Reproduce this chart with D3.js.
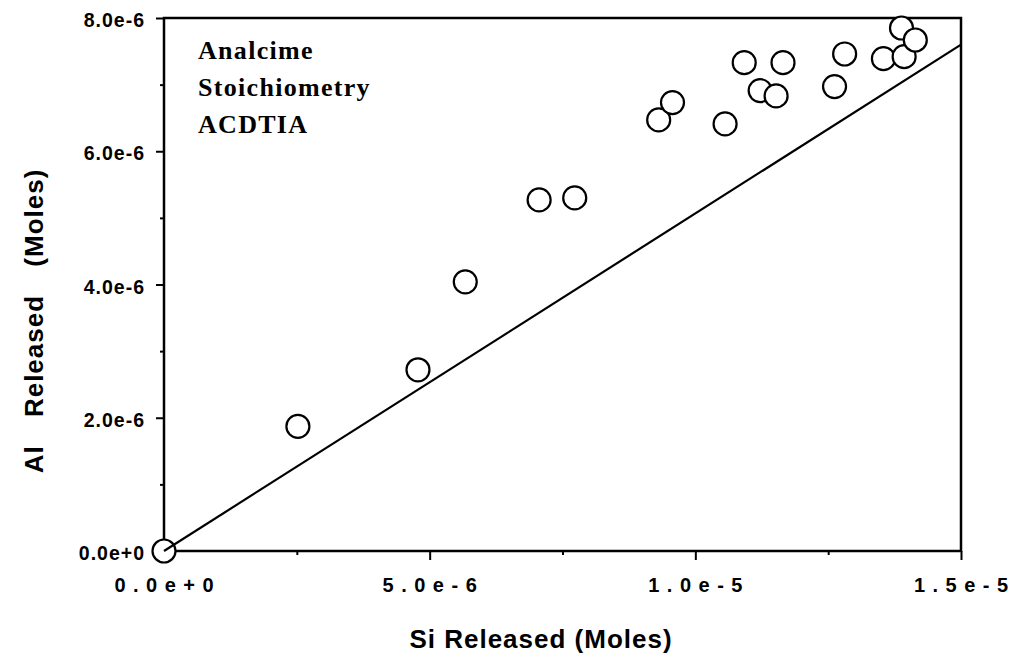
<!DOCTYPE html>
<html>
<head>
<meta charset="utf-8">
<script src="https://cdn.jsdelivr.net/npm/d3@7"></script>
<style>
  html, body { margin: 0; padding: 0; background: #fff; }
  svg { display: block; }
</style>
</head>
<body>
<svg id="chart" width="1016" height="656"></svg>
<script>
// Si and Al released (moles) for each sample
const siReleased = [0, 2.52e-6, 4.78e-6, 5.67e-6, 7.06e-6, 7.73e-6, 9.31e-6, 9.57e-6,
  10.56e-6, 10.92e-6, 11.22e-6, 11.52e-6, 11.65e-6, 12.62e-6, 12.81e-6, 13.54e-6,
  13.88e-6, 13.93e-6, 14.14e-6];
const alReleased = [0, 1.87e-6, 2.72e-6, 4.04e-6, 5.27e-6, 5.30e-6, 6.47e-6, 6.73e-6,
  6.41e-6, 7.33e-6, 6.91e-6, 6.83e-6, 7.33e-6, 6.97e-6, 7.46e-6, 7.39e-6,
  7.85e-6, 7.42e-6, 7.67e-6];

// Stoichiometric reference line (Si, Al)
const stoichSi = [0, 1.5e-5];
const stoichAl = [0, 7.6e-6];

// Axis ticks
const xTickValues = [0, 5e-6, 1e-5, 1.5e-5];
const xTickLabels = ["0.0e+0", "5.0e-6", "1.0e-5", "1.5e-5"];
const xMinorValues = [2.5e-6, 7.5e-6, 1.25e-5];
const yTickValues = [0, 2e-6, 4e-6, 6e-6, 8e-6];
const yTickLabels = ["0.0e+0", "2.0e-6", "4.0e-6", "6.0e-6", "8.0e-6"];
const yMinorValues = [1e-6, 3e-6, 5e-6, 7e-6];

const noteLines = ["Analcime", "Stoichiometry", "ACDTIA"];

const svg = d3.select("#chart");
const plotLeft = 164, plotRight = 961, plotTop = 18, plotBottom = 551;

const x = d3.scaleLinear().domain([0, 1.5e-5]).range([plotLeft, plotRight]);
const y = d3.scaleLinear().domain([0, 8e-6]).range([plotBottom, plotTop]);

const sans = "'Liberation Sans', Arial, Helvetica, sans-serif";
const serif = "'Liberation Serif', 'Times New Roman', serif";

// Frame
svg.append("rect")
  .attr("x", plotLeft).attr("y", plotTop)
  .attr("width", plotRight - plotLeft).attr("height", plotBottom - plotTop)
  .attr("fill", "none").attr("stroke", "#000").attr("stroke-width", 2.5);

// X axis: major and minor ticks
const gx = svg.append("g").attr("transform", `translate(0,${plotBottom})`)
  .call(d3.axisBottom(x).tickValues(xTickValues).tickSize(9).tickFormat(""));
gx.select(".domain").remove();
gx.selectAll("line").attr("stroke", "#000").attr("stroke-width", 2);

const gxm = svg.append("g").attr("transform", `translate(0,${plotBottom})`)
  .call(d3.axisBottom(x).tickValues(xMinorValues).tickSize(4).tickFormat(""));
gxm.select(".domain").remove();
gxm.selectAll("line").attr("stroke", "#000").attr("stroke-width", 2);

// X tick labels (letter-spaced)
const xLs = 7.5;
svg.append("g").selectAll("text")
  .data(xTickValues)
  .join("text")
  .attr("x", d => x(d) + xLs / 2)
  .attr("y", 592)
  .attr("text-anchor", "middle")
  .attr("font-family", sans)
  .attr("font-weight", "bold")
  .attr("font-size", 20)
  .attr("letter-spacing", xLs)
  .text((d, i) => xTickLabels[i]);

// Y axis: major and minor ticks
const gy = svg.append("g").attr("transform", `translate(${plotLeft},0)`)
  .call(d3.axisLeft(y).tickValues(yTickValues).tickSize(8).tickFormat(""));
gy.select(".domain").remove();
gy.selectAll("line").attr("stroke", "#000").attr("stroke-width", 2);

const gym = svg.append("g").attr("transform", `translate(${plotLeft},0)`)
  .call(d3.axisLeft(y).tickValues(yMinorValues).tickSize(4).tickFormat(""));
gym.select(".domain").remove();
gym.selectAll("line").attr("stroke", "#000").attr("stroke-width", 2);

svg.append("g").selectAll("text")
  .data(yTickValues)
  .join("text")
  .attr("x", 145)
  .attr("y", d => y(d) + 9)
  .attr("text-anchor", "end")
  .attr("font-family", sans)
  .attr("font-weight", "bold")
  .attr("font-size", 19.5)
  .attr("letter-spacing", 1)
  .text((d, i) => yTickLabels[i]);

// Data points
svg.append("g").selectAll("circle")
  .data(siReleased.map((s, i) => [s, alReleased[i]]))
  .join("circle")
  .attr("cx", d => x(d[0]))
  .attr("cy", d => y(d[1]))
  .attr("r", 11.5)
  .attr("fill", "#fff")
  .attr("stroke", "#000")
  .attr("stroke-width", 2.2);

// Stoichiometry line
svg.append("path")
  .datum(stoichSi.map((s, i) => [s, stoichAl[i]]))
  .attr("d", d3.line().x(d => x(d[0])).y(d => y(d[1])))
  .attr("fill", "none")
  .attr("stroke", "#000")
  .attr("stroke-width", 2.2);

// Annotation
svg.append("g").selectAll("text")
  .data(noteLines)
  .join("text")
  .attr("x", 198)
  .attr("y", (d, i) => 59 + i * 37)
  .attr("font-family", serif)
  .attr("font-weight", "bold")
  .attr("font-size", 26)
  .attr("letter-spacing", 1.3)
  .text(d => d);

// Axis titles
svg.append("text")
  .attr("x", 541)
  .attr("y", 648)
  .attr("text-anchor", "middle")
  .attr("font-family", sans)
  .attr("font-weight", "bold")
  .attr("font-size", 26)
  .attr("letter-spacing", 1)
  .text("Si Released (Moles)");

svg.append("text")
  .attr("transform", "translate(43,321) rotate(-90)")
  .attr("text-anchor", "middle")
  .attr("font-family", sans)
  .attr("font-weight", "bold")
  .attr("font-size", 26)
  .attr("letter-spacing", 1)
  .attr("word-spacing", 20)
  .text("Al Released (Moles)");
</script>
</body>
</html>
